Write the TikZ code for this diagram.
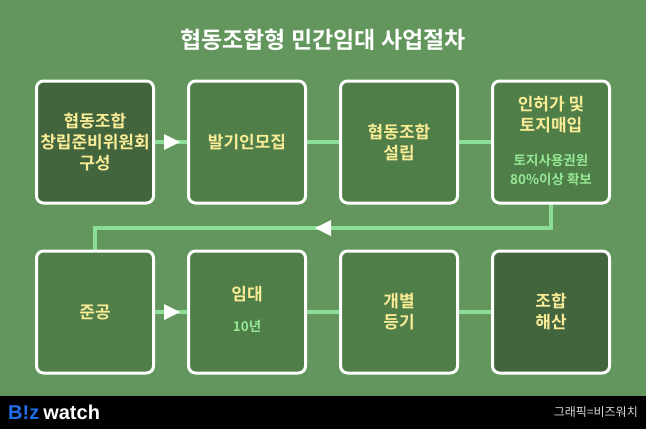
\documentclass[tikz,border=0pt]{standalone}
\usepackage{fontspec}
\setmainfont{Noto Sans CJK KR}[BoldFont={* Bold}]
\newfontfamily\logofont{Liberation Sans}
\usetikzlibrary{positioning}
\definecolor{bggreen}{RGB}{98,150,92}
\definecolor{darkbox}{RGB}{66,101,62}
\definecolor{midbox}{RGB}{79,126,72}
\definecolor{linkgreen}{RGB}{140,222,150}
\definecolor{boxtext}{RGB}{250,236,150}
\definecolor{subtext}{RGB}{150,232,150}
\definecolor{bizblue}{RGB}{30,110,235}
\tikzset{stage/.style={draw=white,line width=3pt,rounded corners=7pt,minimum width=117pt,minimum height=122pt,
  text=boxtext,font=\bfseries\fontsize{17}{21}\selectfont,align=center,fill=midbox}}
\tikzset{link/.style={draw=linkgreen,line width=3.5pt}}
\tikzset{tip/.style={fill=white,draw=none}}
\begin{document}
\begin{tikzpicture}[x=1pt,y=-1pt]
  \useasboundingbox (0,0) rectangle (646,429);
  \fill[bggreen] (0,0) rectangle (646,396);
  \fill[black] (0,396) rectangle (646,429);
  \node[font=\bfseries\fontsize{23}{27}\selectfont,text=white] (title) at (323,40) {협동조합형 민간임대 사업절차};
  % links behind the boxes
  \coordinate (turnA) at (551,228);
  \coordinate (turnB) at (95,228);
  \draw[link] (95,142) -- (551,142);
  \draw[link] (95,312) -- (551,312);
  \draw[link] (551,142) -- (turnA) -- (turnB) -- (95,312);
  \node[stage,fill=darkbox] (s1) at (95,142) {협동조합\\창립준비위원회\\구성};
  \node[stage] (s2) at (247,142) {발기인모집};
  \node[stage] (s3) at (399,142) {협동조합\\설립};
  \node[stage] (s4) at (551,142) {};
  \node[text=boxtext,font=\bfseries\fontsize{17}{21}\selectfont,align=center] (s4a) at (551,115) {인허가 및\\토지매입};
  \node[text=subtext,font=\bfseries\fontsize{13.5}{19}\selectfont,align=center] (s4b) at (551,170) {토지사용권원\\80\%이상 확보};
  \node[stage] (s5) at (95,312) {준공};
  \node[stage] (s6) at (247,312) {};
  \node[text=boxtext,font=\bfseries\fontsize{17}{21}\selectfont] (s6a) at (247,294) {임대};
  \node[text=subtext,font=\bfseries\fontsize{13.5}{16}\selectfont] (s6b) at (247,326) {10년};
  \node[stage] (s7) at (399,312) {개별\\등기};
  \node[stage,fill=darkbox] (s8) at (551,312) {조합\\해산};
  % arrowheads
  \fill[tip] (164,134) -- (180,142) -- (164,150) -- cycle;
  \fill[tip] (164,304) -- (180,312) -- (164,320) -- cycle;
  \fill[tip] (331,220) -- (315,228) -- (331,236) -- cycle;
  % footer
  \node[anchor=west,font=\logofont\bfseries\fontsize{20}{22}\selectfont,inner sep=0] (logo) at (8,412)
    {\textcolor{bizblue}{B!z}\hspace{4pt}\textcolor{white}{watch}};
  \node[anchor=east,text=white!85!black,font=\fontsize{12}{14}\selectfont,inner sep=0] (credit) at (638,412) {그래픽=비즈워치};
\end{tikzpicture}
\end{document}
